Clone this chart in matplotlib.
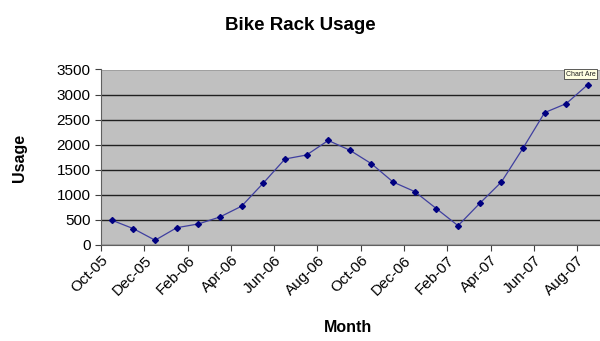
import matplotlib
matplotlib.use("Agg")
import matplotlib.pyplot as plt

months = ["Oct-05", "Nov-05", "Dec-05", "Jan-06", "Feb-06", "Mar-06", "Apr-06", "May-06",
          "Jun-06", "Jul-06", "Aug-06", "Sep-06", "Oct-06", "Nov-06", "Dec-06", "Jan-07",
          "Feb-07", "Mar-07", "Apr-07", "May-07", "Jun-07", "Jul-07", "Aug-07"]
usage = [495, 325, 95, 345, 420, 560, 775, 1235, 1715, 1795, 2085, 1890,
         1620, 1255, 1065, 725, 385, 830, 1255, 1930, 2640, 2820, 3200]
yticks = [0, 500, 1000, 1500, 2000, 2500, 3000, 3500]

plt.rcParams['font.family'] = ['Liberation Sans', 'DejaVu Sans']

fig = plt.figure(figsize=(6, 3.41), dpi=100)
W, H = 600, 341
left, right, top, bottom = 101, 600, 69.5, 245
ax = fig.add_axes([left / W, 1 - bottom / H, (right - left) / W, (bottom - top) / H])
ax.set_facecolor('#C0C0C0')

x = list(range(len(months)))
ax.plot(x, usage, color='#3F3FA0', lw=0.9, marker='D', markersize=3,
        markerfacecolor='#000080', markeredgecolor='#000080', zorder=3)

ax.set_ylim(0, 3500)
ax.set_yticks(yticks)
ax.set_yticklabels([str(v) for v in yticks], fontsize=11)
ax.yaxis.grid(True, color='#202020', lw=1.0)
ax.set_axisbelow(True)

ax.set_xlim(-0.5, -0.5 + (right - left) / 21.64)
tick_pos = [i - 0.5 for i in range(0, len(months), 2)]
ax.set_xticks(tick_pos)
ax.set_xticklabels([months[i] for i in range(0, len(months), 2)], rotation=45,
                   ha='right', rotation_mode='anchor', fontsize=11)
ax.tick_params(axis='both', direction='out', length=4, color='#404040', width=0.8)
ax.tick_params(axis='x', pad=2)

for s in ['top', 'right']:
    ax.spines[s].set_visible(False)
for s in ['left', 'bottom']:
    ax.spines[s].set_color('#606060')
    ax.spines[s].set_linewidth(0.8)

fig.text(300 / W, 1 - 25 / H, "Bike Rack Usage", ha='center', va='center',
         fontsize=13.5, fontweight='bold')
fig.text(348 / W, 1 - 328 / H, "Month", ha='center', va='center',
         fontsize=11.5, fontweight='bold')
fig.text(20 / W, 1 - 158 / H, "Usage", ha='center', va='center', rotation=90,
         fontsize=11.5, fontweight='bold')
fig.text(566 / W, 1 - 74 / H, "Chart Are", ha='left', va='center', fontsize=5,
         color='#202020',
         bbox=dict(boxstyle='square,pad=0.25', facecolor='#FFFFE1', edgecolor='#404040', lw=0.6))

fig.savefig("out.png", dpi=100)
